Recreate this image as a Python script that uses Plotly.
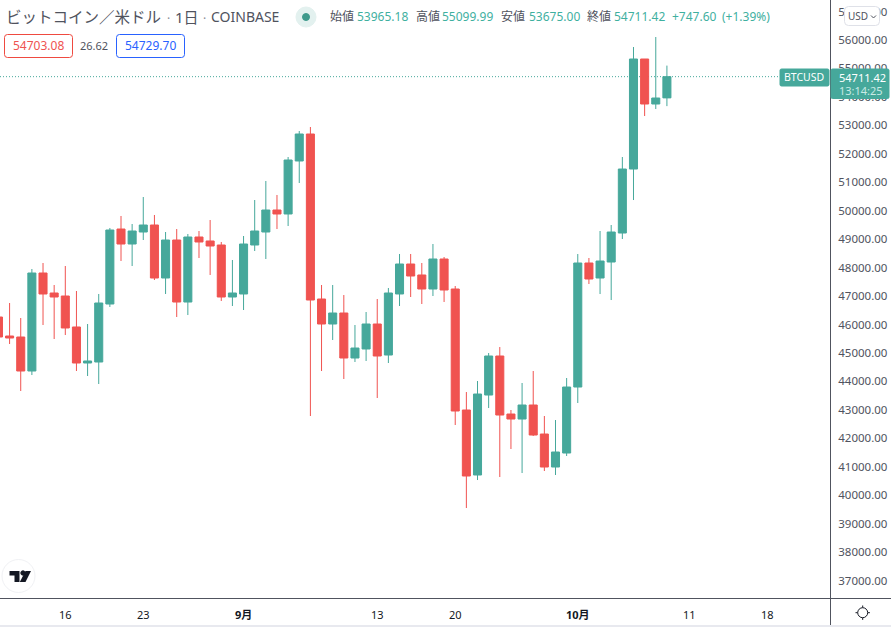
# btc daily candles, coinbase, tradingview style
import pandas as pd
import plotly.graph_objects as go

W, H = 891, 627
PLOT_W, PLOT_H = 830, 598

GREEN = "#46a89b"
RED = "#f05350"
TEXT_GREEN = "#3fb09f"
GREY = "#50535e"
DARK = "#131722"

dates = pd.date_range("2021-08-10", "2021-10-09").strftime("%Y-%m-%d").tolist()

opens = [46263, 45595, 45560, 44365, 47810, 47107, 47001, 45912, 44646, 44681, 46720,
         49356, 48829, 49251, 49497, 47634, 48970, 46790, 49075, 48935, 48794, 46966,
         47072, 48794, 49251, 50024, 49884, 51747, 52696, 46896, 46017, 46404, 44822,
         45139, 46017, 44927, 47072, 48126, 47740, 47247, 48302, 47247, 42994, 40709,
         43521, 44892, 42853, 42677, 43170, 42150, 40990, 41482, 43802, 48161, 47634,
         48196, 49215, 51465, 55332, 53750, 53965.18]
highs = [46400, 46755, 46228, 47950, 48161, 47388, 48056, 47177, 46017, 47072, 49392,
         49814, 49532, 50481, 49849, 49251, 49356, 49181, 49286, 49673, 48900, 48267,
         49110, 50376, 51044, 50552, 51887, 52801, 52942, 47388, 47388, 47036, 45982,
         46439, 46896, 47283, 48478, 48478, 48161, 48829, 48372, 47353, 43626, 44013,
         44997, 45208, 42994, 43943, 44365, 42783, 42642, 44119, 48477, 48337, 49286,
         49497, 51887, 55753, 55332, 56105, 55099.99]
lows = [45400, 45314, 43662, 44224, 45982, 45490, 45630, 44365, 44189, 43908, 46615,
        48232, 48056, 48970, 47564, 47072, 46263, 46333, 48337, 47740, 46826, 46650,
        46509, 48583, 48302, 49356, 49462, 50973, 42783, 44365, 45455, 44084, 44681,
        44717, 43416, 44646, 46650, 46966, 46720, 47001, 46791, 42467, 39549, 40533,
        43064, 40639, 41623, 40779, 42080, 40850, 40709, 41377, 43240, 47423, 47071,
        46860, 49005, 50375, 53328, 53574, 53675.00]
closes = [45560, 45525, 44365, 47810, 47072, 46966, 45877, 44646, 44717, 46755, 49321,
          48829, 49286, 49497, 47634, 48970, 46790, 49075, 48900, 48759, 46966, 47107,
          48829, 49286, 50024, 49884, 51782, 52696, 46861, 46017, 46404, 44822, 45173,
          46017, 44892, 47107, 48126, 47704, 47247, 48302, 47212, 42959, 40674, 43556,
          44892, 42818, 42677, 43170, 42115, 40990, 41518, 43802, 48161, 47599, 48231,
          49250, 51465, 55332, 53750, 53961, 54711.42]

price_ticks = list(range(37000, 58000, 1000))
time_tickvals = ["2021-08-16", "2021-08-23", "2021-09-01", "2021-09-13", "2021-09-20",
                 "2021-10-01", "2021-10-11", "2021-10-18"]
time_ticktext = ["16", "23", "<b>9月</b>", "13", "20", "<b>10月</b>", "11", "18"]
last_price = 54711.42


# paper coords are relative to the plot area, not the page
def px(x):
    return x / PLOT_W


def py(y):
    return 1 - y / PLOT_H


def label(x, y, text, color=GREY, size=12, anchor="left", family="Noto Sans, Noto Sans CJK JP"):
    return dict(xref="paper", yref="paper", x=px(x), y=py(y), text=text, showarrow=False,
                xanchor=anchor, yanchor="middle", borderpad=0,
                font=dict(family=family, size=size, color=color))


def rect(x0, y0, x1, y1, fill, line=None):
    return dict(type="rect", xref="paper", yref="paper", x0=px(x0), x1=px(x1), y0=py(y0), y1=py(y1),
                fillcolor=fill, line=dict(color=line or fill, width=0))


def rounded(x0, y0, x1, y1, r, fill, line=None):
    # rounded box, in pixels
    pts = [("M", x0 + r, y0), ("L", x1 - r, y0), ("Q", x1, y0, x1, y0 + r), ("L", x1, y1 - r),
           ("Q", x1, y1, x1 - r, y1), ("L", x0 + r, y1), ("Q", x0, y1, x0, y1 - r),
           ("L", x0, y0 + r), ("Q", x0, y0, x0 + r, y0)]
    path = ""
    for p in pts:
        coords = p[1:]
        path += p[0] + " " + " ".join(
            f"{px(c) if i % 2 == 0 else py(c)}" for i, c in enumerate(coords)) + " "
    return dict(type="path", xref="paper", yref="paper", path=path + "Z", fillcolor=fill,
                line=dict(color=line or fill, width=1))


def poly(points, fill=None, line=None, width=1):
    path = "M " + " L ".join(f"{px(x)} {py(y)}" for x, y in points)
    if fill:
        path += " Z"
    return dict(type="path", xref="paper", yref="paper", path=path,
                fillcolor=fill or "rgba(0,0,0,0)", line=dict(color=line or fill, width=width if line else 0))


def circle(cx, cy, r, fill, line=None, width=1):
    return dict(type="circle", xref="paper", yref="paper", x0=px(cx - r), x1=px(cx + r),
                y0=py(cy - r), y1=py(cy + r), fillcolor=fill,
                line=dict(color=line or fill, width=width))


candles = go.Candlestick(
    x=dates, open=opens, high=highs, low=lows, close=closes,
    whiskerwidth=0,
    increasing=dict(line=dict(color=GREEN, width=1), fillcolor=GREEN),
    decreasing=dict(line=dict(color=RED, width=1), fillcolor=RED),
)

fig = go.Figure(data=[candles])

shapes = [
    dict(type="line", xref="paper", yref="y", x0=0, x1=px(780), y0=last_price, y1=last_price,
         line=dict(color=GREEN, width=1, dash="1px,2px"), layer="below"),
    # axis borders and bottom strip
    rect(830, 0, 831, H, GREY),
    rect(0, 598, W, 599, GREY),
    rect(0, 625, W, 627, "#e8e9ef"),
    # status dot
    circle(306, 17, 10, "#e3f1ef"),
    circle(306, 17, 3.5, "#3f9a8c"),
    # value boxes
    rounded(4.5, 34.5, 72.5, 57.5, 3, "white", "#ef4a40"),
    rounded(116.5, 34.5, 184.5, 57.5, 3, "white", "#2962ff"),
    # last price tags
    rounded(780, 69, 829, 86, 1.5, GREEN),
    rounded(831, 69, 889, 98.5, 1.5, GREEN),
    # currency button
    rounded(844.5, 6.5, 879.5, 25.5, 4, "white", "#dfe1e8"),
    poly([(871, 15.5), (873.5, 18), (876, 15.5)], line=GREY),
    # logo
    circle(18.5, 576, 16.5, "white", "#f0f1f4", 1),
    poly([(9.5, 571), (19.5, 571), (19.5, 582), (14.5, 582), (14.5, 575.5), (9.5, 575.5)], fill="#131722"),
    circle(23, 573, 2.2, "#131722"),
    poly([(25.5, 571), (31, 571), (25.5, 582), (19.8, 582)], fill="#131722"),
    # settings sun
    circle(862.7, 612.7, 5, "white", DARK, 1),
    poly([(862.7, 605.5), (862.7, 607.5)], line=DARK),
    poly([(862.7, 617.9), (862.7, 619.9)], line=DARK),
    poly([(855.5, 612.7), (857.5, 612.7)], line=DARK),
    poly([(867.9, 612.7), (869.9, 612.7)], line=DARK),
]

annotations = [
    label(5, 17, "ビットコイン／米ドル", size=15.5),
    label(166, 19, "·", size=12, color="#8a8d96"),
    label(174, 17, "1日", size=15),
    label(202, 19, "·", size=12, color="#8a8d96"),
    label(210, 17, "COINBASE", size=14),
    label(329, 17, "始値"),
    label(356, 17, "53965.18", TEXT_GREEN),
    label(414.5, 17, "高値"),
    label(441, 17, "55099.99", TEXT_GREEN),
    label(500, 17, "安値"),
    label(528, 17, "53675.00", TEXT_GREEN),
    label(586, 17, "終値"),
    label(613, 17, "54711.42", TEXT_GREEN),
    label(671, 17, "+747.60", TEXT_GREEN),
    label(721, 17, "(+1.39%)", TEXT_GREEN),
    label(38.5, 46, "54703.08", "#ef5350", anchor="center"),
    label(94, 46, "26.62", GREY, size=11, anchor="center"),
    label(150.5, 46, "54729.70", "#2962ff", anchor="center"),
    label(804.5, 77.5, "BTCUSD", "white", size=10.5, anchor="center"),
    label(862.5, 77, "54711.42", "white", size=11, anchor="center"),
    label(861.5, 90, "13:14:25", "#c9eae5", size=11, anchor="center"),
    label(847, 16, "USD", GREY, size=10),
]

fig.update_layout(
    width=W, height=H,
    margin=dict(l=0, r=W - PLOT_W, t=0, b=H - PLOT_H),
    paper_bgcolor="white", plot_bgcolor="white",
    showlegend=False, boxgap=0.15, boxgroupgap=0.15,
    shapes=shapes, annotations=annotations,
    font=dict(family="Noto Sans, Noto Sans CJK JP", size=11, color=DARK),
)
fig.update_xaxes(
    type="date", range=["2021-08-10 03:20", "2021-10-23 15:20"],
    rangeslider_visible=False, showgrid=False, zeroline=False, showline=False,
    tickmode="array", tickvals=time_tickvals, ticktext=time_ticktext,
    ticks="outside", ticklen=7, tickcolor="white", tickangle=0,
)
fig.update_yaxes(
    range=[36386, 57406], side="right", showgrid=False, zeroline=False, showline=False,
    tickmode="array", tickvals=price_ticks, tickformat=".2f",
    ticks="outside", ticklen=5, tickcolor="white",
    tickfont=dict(size=11.5, color=GREY),
)

fig.write_html("out.html", config=dict(displayModeBar=False),
               post_script="document.body.style.margin='0';document.body.style.overflow='hidden';")
